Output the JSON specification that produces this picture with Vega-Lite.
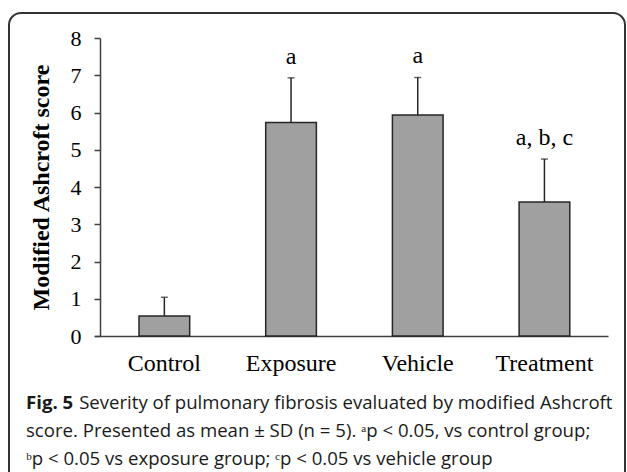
{
  "$schema": "https://vega.github.io/schema/vega-lite/v6.json",
  "autosize": "none",
  "padding": {"left": 9, "top": 13, "right": 2, "bottom": 0},
  "width": 616,
  "height": 470,
  "config": {
    "view": {"stroke": "#333333", "strokeWidth": 2, "cornerRadius": 12},
    "font": "Liberation Serif"
  },
  "title": {
    "text": "Fig. 5",
    "subtitle": [
      "\u200b\u00a0\u00a0\u00a0\u00a0\u00a0\u00a0\u00a0\u00a0\u00a0\u00a0\u00a0Severity of pulmonary fibrosis evaluated by modified Ashcroft",
      "score. Presented as mean ± SD (n = 5). ᵃp < 0.05, vs control group;",
      "ᵇp < 0.05 vs exposure group; ᶜp < 0.05 vs vehicle group"
    ],
    "orient": "bottom",
    "anchor": "start",
    "frame": "group",
    "offset": -89,
    "dx": 17,
    "font": "Open Sans",
    "fontSize": 18.6,
    "fontWeight": "bold",
    "color": "#1a1a1a",
    "subtitleFont": "Open Sans",
    "subtitleFontSize": 18.6,
    "subtitleFontWeight": "normal",
    "subtitleColor": "#1a1a1a",
    "subtitleLineHeight": 28,
    "subtitlePadding": -18.6
  },
  "data": {
    "values": [
      {"group": "Control", "mean": 0.54, "err": 1.04, "sig": ""},
      {"group": "Exposure", "mean": 5.73, "err": 6.93, "sig": "a"},
      {"group": "Vehicle", "mean": 5.93, "err": 6.94, "sig": "a"},
      {"group": "Treatment", "mean": 3.6, "err": 4.75, "sig": "a, b, c"}
    ]
  },
  "encoding": {
    "x": {
      "field": "group",
      "type": "nominal",
      "sort": null,
      "scale": {"range": [85.5, 599], "paddingInner": 0.6, "paddingOuter": 0.3265, "align": 0.538},
      "axis": {
        "orient": "bottom",
        "offset": -147,
        "title": null,
        "ticks": false,
        "labelAngle": 0,
        "labelFont": "Liberation Serif",
        "labelFontSize": 24,
        "labelColor": "black",
        "labelPadding": 15,
        "domainColor": "#404040",
        "domainWidth": 1.5
      }
    }
  },
  "layer": [
    {
      "mark": {"type": "bar", "fill": "#a0a0a0", "stroke": "#262626", "strokeWidth": 1.5},
      "encoding": {
        "y": {
          "field": "mean",
          "type": "quantitative",
          "title": "Modified Ashcroft score",
          "scale": {"domain": [0, 8], "range": [323, 25], "nice": false},
          "axis": {
            "offset": -91,
            "values": [0, 1, 2, 3, 4, 5, 6, 7, 8],
            "format": "d",
            "grid": false,
            "tickSize": 6,
            "tickColor": "#404040",
            "tickWidth": 1.5,
            "domainColor": "#404040",
            "domainWidth": 1.5,
            "labelFont": "Liberation Serif",
            "labelFontSize": 22,
            "labelColor": "black",
            "labelPadding": 13,
            "titleFont": "Liberation Serif",
            "titleFontSize": 24,
            "titleFontWeight": "bold",
            "titleColor": "black",
            "titleX": -59,
            "titleY": 174,
            "titleAngle": 270,
            "titleAlign": "center",
            "titleBaseline": "middle"
          }
        }
      }
    },
    {
      "mark": {"type": "rule", "color": "#262626", "strokeWidth": 1.5},
      "encoding": {
        "y": {"field": "mean", "type": "quantitative", "title": "Modified Ashcroft score"},
        "y2": {"field": "err"}
      }
    },
    {
      "mark": {"type": "tick", "color": "#262626", "thickness": 1.5, "size": 7},
      "encoding": {
        "y": {"field": "err", "type": "quantitative", "title": "Modified Ashcroft score"}
      }
    },
    {
      "mark": {"type": "text", "dy": -21, "fontSize": 24, "font": "Liberation Serif", "baseline": "middle", "color": "black"},
      "encoding": {
        "y": {"field": "err", "type": "quantitative", "title": "Modified Ashcroft score"},
        "text": {"field": "sig"}
      }
    }
  ]
}
